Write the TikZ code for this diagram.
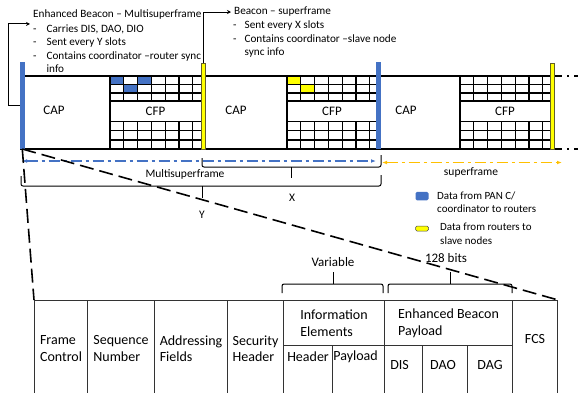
\documentclass[tikz,border=0pt]{standalone}
\usepackage{fontspec}
\setmainfont{Carlito}
\usetikzlibrary{positioning, arrows.meta}
\definecolor{msblue}{RGB}{68,114,196}
\definecolor{msyellow}{RGB}{255,255,0}
\definecolor{msorange}{RGB}{255,192,0}

\begin{document}
\begin{tikzpicture}[x=1pt, y=-1pt,
		frame/.style={line width=1.1pt},
		gridline/.style={line width=1.3pt},
		bluebar/.style={fill=msblue, inner sep=0pt, minimum width=4.5pt, minimum height=87pt, anchor=south},
		yellowbar/.style={fill=msyellow, draw=olive!60!black, line width=.3pt, inner sep=0pt, minimum width=4pt, minimum height=86pt, anchor=south},
		lbl/.style={font=\fontsize{11.5}{13}\selectfont},
		slotlbl/.style={font=\fontsize{13}{15}\selectfont},
		note/.style={font=\fontsize{11.2}{13.5}\selectfont, align=left, inner sep=3pt},
		legtxt/.style={font=\fontsize{11}{13.5}\selectfont, align=left, inner sep=0pt},
		conn/.style={line width=.9pt, -{Stealth[length=4pt, width=4pt]}},
		span/.style={line width=1.8pt, dash pattern=on 11pt off 4pt on 3pt off 4pt, {Latex[length=5pt]}-{Latex[length=5pt]}},
		brace/.style={line width=1pt, rounded corners=2pt},
		cell/.style={draw=black!80, line width=1.1pt, inner sep=0pt, align=left, anchor=north west, font=\fontsize{14}{16.5}\selectfont},
		txt/.style={font=\fontsize{14}{16.5}\selectfont, inner sep=0pt},
		zoomline/.style={line width=1.6pt, dash pattern=on 14pt off 6pt},
	]
	\useasboundingbox (0,0) rectangle (578,392);

	% slots of the CFPs
	\fill[msblue] (110,76) rectangle (123.8,84.5);
	\fill[msblue] (123.8,84.5) rectangle (137.6,93);
	\fill[msblue] (137.6,76) rectangle (151.4,84.5);
	\fill[msyellow] (287,76) rectangle (300.8,84.5);
	\fill[msyellow] (300.8,84.5) rectangle (314.6,93);

	\foreach \l/\r in {110/201, 287/377, 460/550} {
		\foreach \y in {84.5, 93, 101, 121.5, 130.5, 140}
			\draw[gridline] (\l,\y) -- (\r,\y);
		\foreach \k in {0,...,6} {
			\draw[gridline] (\l+\k*13.8,76) -- (\l+\k*13.8,101);
			\draw[gridline] (\l+\k*13.8,121.5) -- (\l+\k*13.8,149);
		}
		\draw[gridline] (\l,101) -- (\l,121.5);
	}

	\draw[frame] (20,76) -- (550,76);
	\draw[frame] (20,149) -- (550,149);
	\draw[line width=1.6pt, dash pattern=on 8pt off 5pt on 2pt off 5pt] (554,76) -- (578,76);
	\draw[line width=1.6pt, dash pattern=on 8pt off 5pt on 2pt off 5pt] (554,149) -- (578,149);

	\node[slotlbl] (cap1) at (54,110) {CAP};
	\node[slotlbl] (cap2) at (236,110) {CAP};
	\node[slotlbl] (cap3) at (406,110) {CAP};
	\node[slotlbl] (cfp1) at (155.5,111) {CFP};
	\node[slotlbl] (cfp2) at (332,111) {CFP};
	\node[slotlbl] (cfp3) at (505,111) {CFP};

	% beacons
	\node[bluebar] (b1) at (22.3,149) {};
	\node[yellowbar] (y1) at (203,149) {};
	\node[bluebar] (b2) at (378.7,149) {};
	\node[yellowbar] (y2) at (552,149) {};

	\node[note, anchor=west] (ebtitle) at (30,15) {Enhanced Beacon -- Multisuperframe};
	\node[note, anchor=north west] (ebitems) at (30,19.4) {\begin{tabular}{@{}l@{\hspace{10pt}}l@{}}
		- & Carries DIS, DAO, DIO\\
		- & Sent every Y slots\\
		- & Contains coordinator --router sync\\
		  & info
	\end{tabular}};
	\node[note, anchor=west] (btitle) at (231,12) {Beacon -- superframe};
	\node[note, anchor=north west] (bitems) at (230,16.3) {\begin{tabular}{@{}l@{\hspace{8pt}}l@{}}
		- & Sent every X slots\\
		- & Contains coordinator --slave node\\
		  & sync info
	\end{tabular}};

	\draw[conn] (b1.west) -- ++(-11,0) |- ([yshift=-4.5pt]ebitems.north west);
	\draw[conn] (y1.north) |- (btitle.west);

	% spans and braces
	\coordinate (ms-l) at (22,161);
	\coordinate (ms-r) at (376,161);
	\coordinate (sf-l) at (382,162.5);
	\coordinate (sf-r) at (562,162.5);
	\draw[span, msblue] (ms-l) -- (ms-r);
	\draw[span, msorange] (sf-l) -- (sf-r);
	\node[lbl] (mslbl) at (185,174) {Multisuperframe};
	\node[lbl] (sflbl) at (471,172) {superframe};

	\draw[brace] (202,158) -- (202,167) -- (381,167) -- (381,155);
	\draw[brace] (291,167) -- (291,178);
	\node[lbl] (xlbl) at (292,198) {X};
	\draw[brace] (21,176) -- (21,186) -- (381,186) -- (381,175);
	\draw[brace] (202,186) -- (202,198);
	\node[lbl] (ylbl) at (202,215) {Y};

	% legend
	\node[fill=msblue, rounded corners=1.5pt, minimum width=13pt, minimum height=8.5pt, inner sep=0pt] (legb) at (422,196) {};
	\node[legtxt, anchor=west] (legbt) at (437,202) {Data from PAN C/\\coordinator to routers};
	\node[draw=black!70, fill=msyellow, line width=.5pt, rounded corners=1.5pt, minimum width=13pt, minimum height=5pt, inner sep=0pt] (legy) at (422,228.5) {};
	\node[legtxt, anchor=west] (legyt) at (440,234) {Data from routers to\\slave nodes};

	% frame format
	\node[cell, minimum width=53pt, minimum height=96pt] (fc) at (34,300) {Frame\\Control};
	\node[cell, minimum width=67pt, minimum height=96pt] (sn) at (87,300) {Sequence\\Number};
	\node[cell, minimum width=73pt, minimum height=96pt] (af) at (154,300) {Addressing\\Fields};
	\node[cell, minimum width=56pt, minimum height=96pt] (sh) at (227,300) {Security\\Header};
	\node[cell, minimum width=101pt, minimum height=45pt] (ie) at (283,300) {Information\\Elements};
	\node[cell, minimum width=128pt, minimum height=45pt] (eb) at (384,300) {Enhanced Beacon\\Payload};
	\node[cell, minimum width=49pt, minimum height=51pt] (hd) at (283,345) {};
	\node[cell, minimum width=52pt, minimum height=51pt] (pl) at (332,345) {};
	\node[cell, minimum width=38pt, minimum height=51pt] (dis) at (384,345) {};
	\node[cell, minimum width=45pt, minimum height=51pt] (dao) at (422,345) {};
	\node[cell, minimum width=45pt, minimum height=51pt] (dag) at (467,345) {};
	\node[cell, minimum width=45pt, minimum height=96pt] (fcs) at (512,300) {};

	\node[txt] (hdt) at ([yshift=-12pt]hd.north) {Header};
	\node[txt] (plt) at ([xshift=-3pt, yshift=-12pt]pl.north) {Payload};
	\node[txt] (dist) at ([xshift=-4pt, yshift=-20pt]dis.north) {DIS};
	\node[txt] (daot) at ([xshift=-2pt, yshift=-20pt]dao.north) {DAO};
	\node[txt] (dagt) at ([yshift=-20pt]dag.north) {DAG};
	\node[txt] (fcst) at ([yshift=10pt]fcs.center) {FCS};

	\draw[brace] (282,293) -- (282,284) -- (383,284) -- (383,293);
	\draw[brace] (333,284) -- (333,272);
	\node[txt, font=\fontsize{13}{16}\selectfont] (varlbl) at (333,262) {Variable};
	\draw[brace] (388,293) -- (388,284) -- (512,284) -- (512,293);
	\draw[brace] (450,284) -- (450,272);
	\node[txt, font=\fontsize{13}{16}\selectfont] (bitlbl) at (446,258) {128 bits};

	\draw[zoomline] (b1.south) -- (fc.north west);
	\draw[zoomline] (b1.south) -- (fcs.north east);
\end{tikzpicture}
\end{document}
